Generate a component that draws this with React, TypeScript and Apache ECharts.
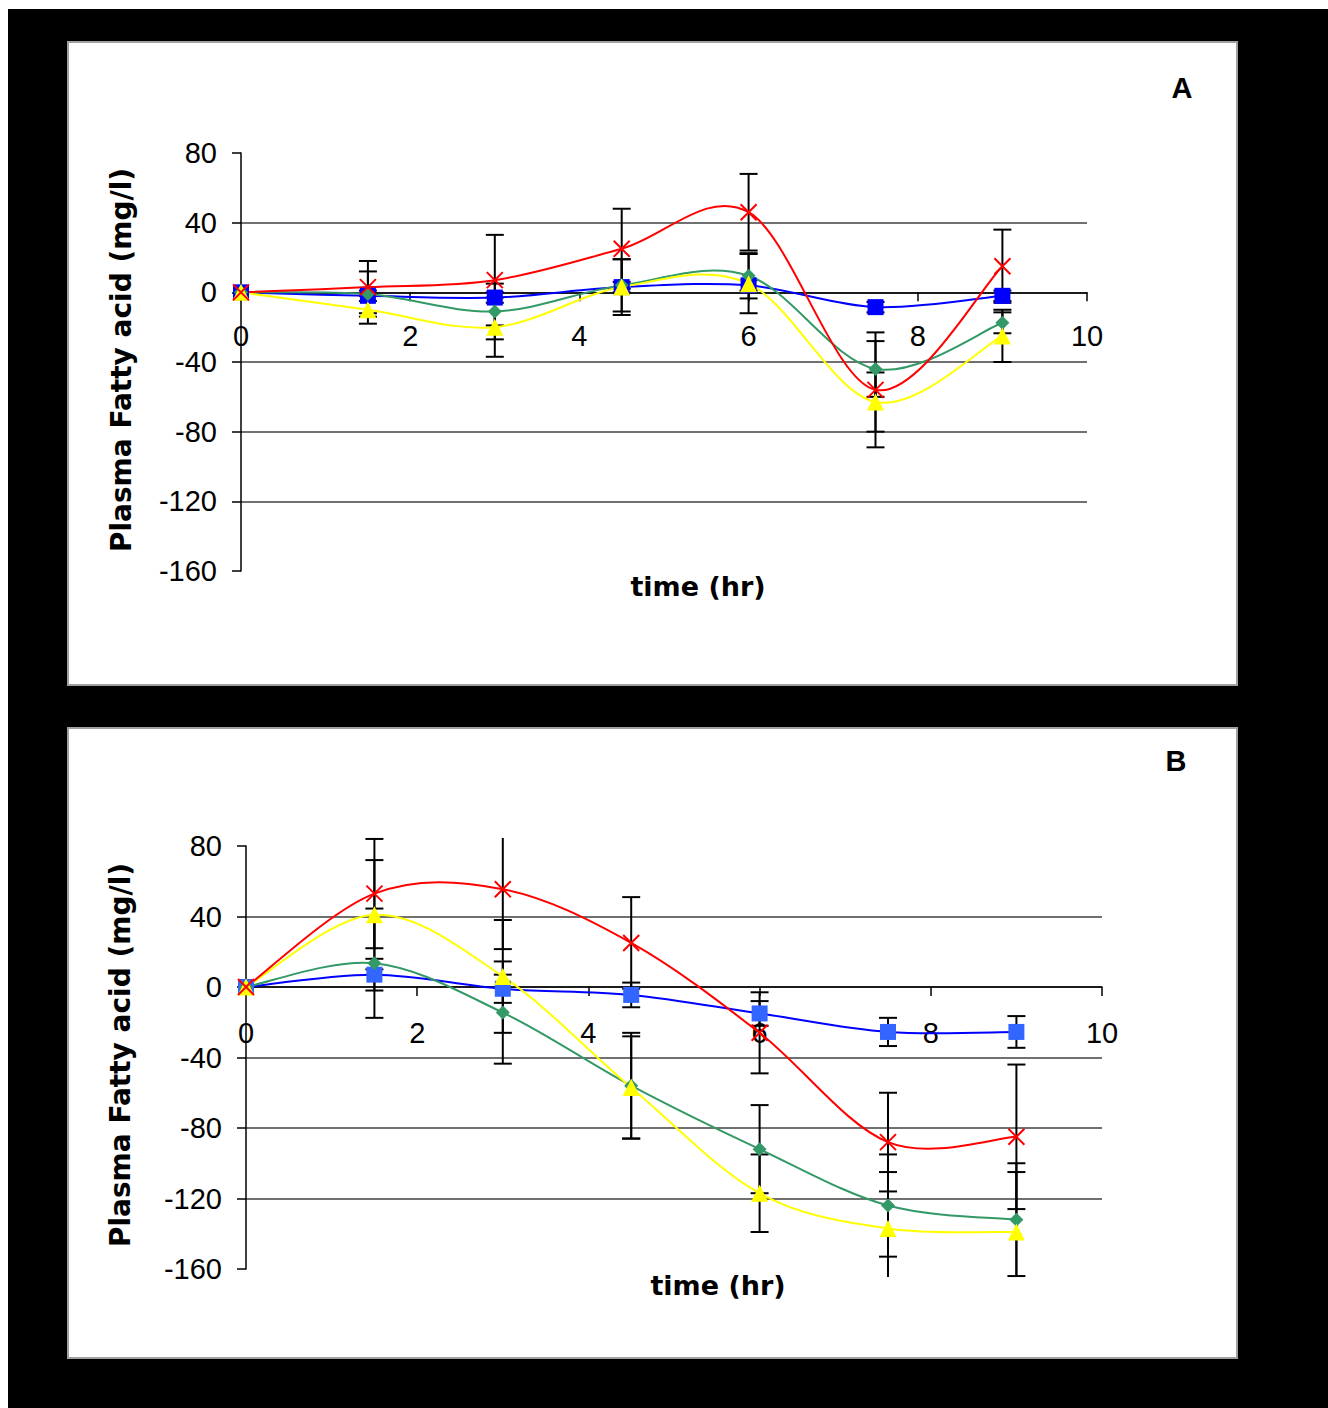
import React, { useEffect, useRef } from "react";
import * as echarts from "echarts";

// ---- data ----
const times = [0, 1.5, 3, 4.5, 6, 7.5, 9];
const xTicks = [0, 2, 4, 6, 8, 10];
const yTicks = [-160, -120, -80, -40, 0, 40, 80];

// Panel A
const aBlue = [0, -2, -3, 3, 4, -8.5, -2];
const aGreen = [0, -1, -11, 4, 9.5, -44, -17.5];
const aYellow = [0, -10, -20, 3, 5, -63, -25];
const aRed = [0, 3, 7, 25, 46, -56, 15];
const aBlueErr = [0, 3, 3, 3, 3, 3, 3];
const aGreenErr = [0, 13, 16, 15, 13, 16, 6];
const aYellowErr = [0, 8, 17, 16, 17, 17, 15];
const aRedErr = [0, 15, 26, 23, 22, 33, 21];

// Panel B
const bBlue = [0, 7, -1, -4.5, -15, -25.5, -25.5];
const bGreen = [0, 13.5, -14.5, -56, -92, -124, -132];
const bYellow = [0, 41, 6, -57, -117, -137, -139];
const bRed = [0, 53, 55.5, 25, -26, -88, -85];
const bBlueErr = [0, 9, 8, 7, 7, 8, 9];
const bGreenErr = [0, 31, 29, 30, 25, 29, 32];
const bYellowErr = [0, 31, 32, 29, 22, 32, 34];
const bRedErr = [0, 31, 34, 26, 23, 28, 41];

const yTitle = "Plasma Fatty acid (mg/l)";
const xTitle = "time (hr)";

const FONT = 'Arial, "Liberation Sans", sans-serif';
const TFONT = '"DejaVu Sans", Verdana, sans-serif';
const CROSS = "path://M0,0L10,10M10,0L0,10";

function errorSeries(idx: number, vals: number[], errs: number[]) {
  const data = times
    .map((t, i) => [t, vals[i] - errs[i], vals[i] + errs[i]])
    .filter((_, i) => errs[i] > 0);
  return {
    type: "custom",
    xAxisIndex: idx,
    yAxisIndex: idx,
    z: 2,
    silent: true,
    clip: false,
    data,
    encode: { x: 0, y: [1, 2] },
    renderItem: (params: any, api: any) => {
      const x = api.value(0);
      const lo = api.coord([x, api.value(1)]);
      const hi = api.coord([x, api.value(2)]);
      const cs = params.coordSys;
      const topLim = cs.y - 8;
      const botLim = cs.y + cs.height + 8;
      let yTop = hi[1];
      let yBot = lo[1];
      const capTop = yTop >= topLim;
      const capBot = yBot <= botLim;
      yTop = Math.max(yTop, topLim);
      yBot = Math.min(yBot, botLim);
      const px = hi[0];
      const hw = 9;
      const st = { stroke: "#000", lineWidth: 2 };
      const children: any[] = [
        { type: "line", shape: { x1: px, y1: yTop, x2: px, y2: yBot }, style: st },
      ];
      if (capTop)
        children.push({ type: "line", shape: { x1: px - hw, y1: yTop, x2: px + hw, y2: yTop }, style: st });
      if (capBot)
        children.push({ type: "line", shape: { x1: px - hw, y1: yBot, x2: px + hw, y2: yBot }, style: st });
      return { type: "group", children };
    },
  };
}

// smoothed line (Catmull-Rom style bezier segments, like a spreadsheet "smoothed line")
function curveSeries(idx: number, vals: number[], color: string) {
  return {
    type: "custom",
    xAxisIndex: idx,
    yAxisIndex: idx,
    z: 3,
    silent: true,
    clip: false,
    data: times.map((t, i) => [t, vals[i]]),
    encode: { x: 0, y: 1 },
    renderItem: (params: any, api: any) => {
      const i = params.dataIndexInside;
      const n = params.dataInsideLength;
      if (i >= n - 1) return { type: "group", children: [] };
      const pt = (k: number) => {
        const kk = Math.max(0, Math.min(n - 1, k));
        return api.coord([api.value(0, kk), api.value(1, kk)]);
      };
      const p0 = pt(i - 1);
      const p1 = pt(i);
      const p2 = pt(i + 1);
      const p3 = pt(i + 2);
      const c1 = [p1[0] + (p2[0] - p0[0]) / 6, p1[1] + (p2[1] - p0[1]) / 6];
      const c2 = [p2[0] - (p3[0] - p1[0]) / 6, p2[1] - (p3[1] - p1[1]) / 6];
      return {
        type: "bezierCurve",
        shape: {
          x1: p1[0], y1: p1[1],
          cpx1: c1[0], cpy1: c1[1],
          cpx2: c2[0], cpy2: c2[1],
          x2: p2[0], y2: p2[1],
        },
        style: { stroke: color, lineWidth: 2, fill: "none" },
      };
    },
  };
}

function markSeries(idx: number, vals: number[], symbol: string, size: number, color: string, cross = false) {
  return {
    type: "scatter",
    xAxisIndex: idx,
    yAxisIndex: idx,
    z: 4,
    silent: true,
    data: times.map((t, i) => [t, vals[i]]),
    symbol,
    symbolSize: size,
    itemStyle: cross
      ? { color: "transparent", borderColor: color, borderWidth: 2, opacity: 1 }
      : { color, borderWidth: 0, opacity: 1 },
    emphasis: { disabled: true },
  };
}

function xAxis(idx: number, margin: number, offset: number) {
  return {
    type: "value",
    gridIndex: idx,
    position: "bottom",
    offset,
    min: 0,
    max: 10,
    interval: 2,
    axisLine: { show: true, onZero: false, lineStyle: { color: "#000", width: 1.5 } },
    axisTick: { show: true, inside: false, length: 9, lineStyle: { color: "#000", width: 1.5 } },
    axisLabel: {
      show: true,
      margin,
      color: "#000",
      fontSize: 29,
      fontFamily: FONT,
      showMinLabel: true,
      showMaxLabel: true,
      formatter: (v: number) => (xTicks.includes(v) ? String(v) : ""),
    },
    splitLine: { show: false },
  };
}

function yAxis(idx: number) {
  return {
    type: "value",
    gridIndex: idx,
    min: -160,
    max: 80,
    interval: 40,
    axisLine: { show: true, onZero: false, lineStyle: { color: "#000", width: 1.5 } },
    axisTick: { show: true, inside: false, length: 9, lineStyle: { color: "#000", width: 1.5 } },
    axisLabel: {
      show: true,
      margin: 24,
      color: "#000",
      fontSize: 29,
      fontFamily: FONT,
      showMinLabel: true,
      showMaxLabel: true,
      formatter: (v: number) => (yTicks.includes(v) ? String(v) : ""),
    },
    splitLine: {
      show: true,
      showMinLine: false,
      showMaxLine: false,
      lineStyle: { color: "#404040", width: 1.5 },
    },
  };
}

function texts(yCx: number, yCy: number, xCx: number, xCy: number, label: string, lx: number, ly: number) {
  return [
    {
      type: "text",
      x: yCx,
      y: yCy,
      rotation: Math.PI / 2,
      z: 10,
      style: {
        text: yTitle,
        fill: "#000",
        font: `bold 28px ${TFONT}`,
        textAlign: "center",
        textVerticalAlign: "middle",
      },
    },
    {
      type: "text",
      x: xCx,
      y: xCy,
      z: 10,
      style: {
        text: xTitle,
        fill: "#000",
        font: `bold 27px ${TFONT}`,
        textAlign: "center",
        textVerticalAlign: "middle",
      },
    },
    {
      type: "text",
      x: lx,
      y: ly,
      z: 10,
      style: {
        text: label,
        fill: "#000",
        font: `bold 29px ${FONT}`,
        textAlign: "center",
        textVerticalAlign: "middle",
      },
    },
  ];
}

export default function App() {
  const ref = useRef<HTMLDivElement>(null);
  useEffect(() => {
    if (!ref.current) return;
    const chart = echarts.init(ref.current, null, { renderer: "svg" });
    const hA = 418;
    const hB = 423;
    const option: any = {
      animation: false,
      backgroundColor: "#000",
      graphic: [
        {
          type: "rect",
          z: -10,
          shape: { x: 60, y: 33, width: 1169, height: 643 },
          style: { fill: "#fff", stroke: "#a0a0a0", lineWidth: 2 },
        },
        {
          type: "rect",
          z: -10,
          shape: { x: 60, y: 719, width: 1169, height: 630 },
          style: { fill: "#fff", stroke: "#a0a0a0", lineWidth: 2 },
        },
        ...texts(113, 351, 690, 577, "A", 1174, 79),
        ...texts(112, 1046, 710, 1276, "B", 1168, 752),
      ],
      grid: [
        { left: 233, top: 144, width: 846, height: hA, containLabel: false },
        { left: 238, top: 837, width: 856, height: hB, containLabel: false },
      ],
      xAxis: [xAxis(0, 29, -hA * (160 / 240)), xAxis(1, 31, -hB * (160 / 240))],
      yAxis: [yAxis(0), yAxis(1)],
      series: [
        errorSeries(0, aBlue, aBlueErr),
        errorSeries(0, aGreen, aGreenErr),
        errorSeries(0, aYellow, aYellowErr),
        errorSeries(0, aRed, aRedErr),
        curveSeries(0, aBlue, "#0000FF"),
        curveSeries(0, aGreen, "#339966"),
        curveSeries(0, aYellow, "#FFFF00"),
        curveSeries(0, aRed, "#FF0000"),
        markSeries(0, aBlue, "rect", 16, "#0000FF"),
        markSeries(0, aGreen, "diamond", 14, "#339966"),
        markSeries(0, aYellow, "triangle", 17, "#FFFF00"),
        markSeries(0, aRed, CROSS, 16, "#FF0000", true),
        errorSeries(1, bBlue, bBlueErr),
        errorSeries(1, bGreen, bGreenErr),
        errorSeries(1, bYellow, bYellowErr),
        errorSeries(1, bRed, bRedErr),
        curveSeries(1, bBlue, "#0000FF"),
        curveSeries(1, bGreen, "#339966"),
        curveSeries(1, bYellow, "#FFFF00"),
        curveSeries(1, bRed, "#FF0000"),
        markSeries(1, bBlue, "rect", 16, "#3366FF"),
        markSeries(1, bGreen, "diamond", 14, "#339966"),
        markSeries(1, bYellow, "triangle", 17, "#FFFF00"),
        markSeries(1, bRed, CROSS, 16, "#FF0000", true),
      ],
    };
    chart.setOption(option);
    return () => chart.dispose();
  }, []);
  return (
    <div
      ref={ref}
      style={{ position: "absolute", left: 8, top: 9, width: 1320, height: 1399 }}
    />
  );
}
